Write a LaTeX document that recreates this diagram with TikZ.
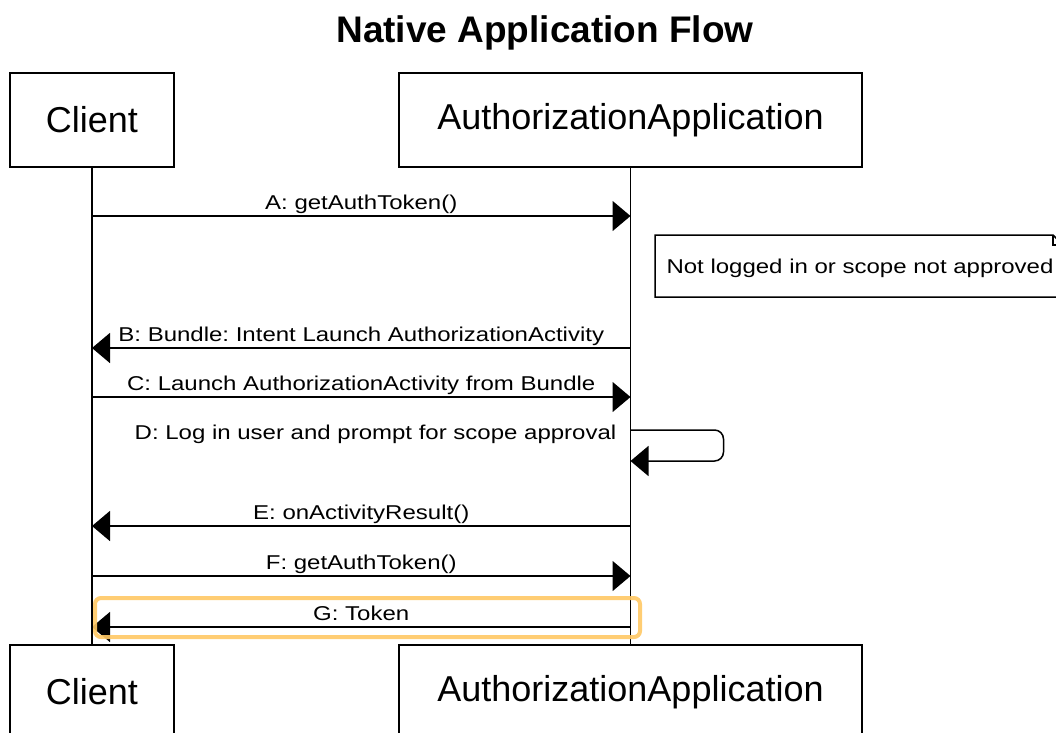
\documentclass[tikz,border=0pt]{standalone}
\usepackage{fontspec}
\setmainfont{Liberation Sans}
\newfontfamily\msgfont[FakeStretch=1.2]{Liberation Sans}
\usetikzlibrary{arrows.meta,calc}
\definecolor{hlorange}{RGB}{255,200,100}
\frenchspacing

\begin{document}
\begin{tikzpicture}[x=1pt,y=-1pt,
  actor/.style={draw, line width=1.5pt, minimum height=94pt, inner sep=0pt,
                font=\fontsize{36}{40}\selectfont},
  msg/.style={line width=1.5pt, -{Triangle[length=18pt,width=30pt]}},
  lbl/.style={font=\msgfont\fontsize{20}{24}\selectfont, inner sep=0pt},
  above line/.style={lbl, anchor=base, yshift=7pt},
  lifeline/.style={line width=1.5pt},
  notebox/.style={line width=1.5pt},
  highlight/.style={draw=hlorange, line width=4pt, rounded corners=6pt, opacity=0.9}]
\useasboundingbox (0,0) rectangle (1056,732);

% title
\node[font=\bfseries\fontsize{37}{42}\selectfont] (title) at (545,33) {Native Application Flow};

% participants (top and bottom)
\node[actor, minimum width=164pt] (client)  at (92,120)    {Client};
\node[actor, minimum width=463pt] (app)     at (630.5,120) {AuthorizationApplication};
\node[actor, minimum width=164pt] (clientB) at (92,692)    {Client};
\node[actor, minimum width=463pt] (appB)    at (630.5,692) {AuthorizationApplication};

% lifelines
\draw[lifeline] (client.south) -- (clientB.north);
\draw[lifeline] (app.south) -- (appB.north);

% message rows
\coordinate (ya)  at (0,216);
\coordinate (yb)  at (0,348);
\coordinate (yc)  at (0,397);
\coordinate (yd)  at (0,430);
\coordinate (yd2) at (0,461);
\coordinate (ye)  at (0,526);
\coordinate (yf)  at (0,576);
\coordinate (yg)  at (0,627);

% note on the application lifeline
\draw[notebox] (655,235) -- (1053,235) -- (1063,245) -- (1063,297) -- (655,297) -- cycle;
\draw[notebox] (1053,235) -- (1053,245) -- (1063,245);
\node[lbl, anchor=base] (note) at (860,273) {Not logged in or scope not approved};

% messages
\draw[msg] (client |- ya) -- node[above line] {A: getAuthToken()} (app |- ya);
\draw[msg] (app |- yb) -- node[above line] {B: Bundle: Intent Launch AuthorizationActivity} (client |- yb);
\draw[msg] (client |- yc) -- node[above line] {C: Launch AuthorizationActivity from Bundle} (app |- yc);
\draw[msg, rounded corners=9pt] (app |- yd) -- ++(93,0) -- ++(0,31) -- (app |- yd2);
\node[lbl, anchor=base east] (dlabel) at ($(app |- yd)+(-14,9)$) {D: Log in user and prompt for scope approval};
\draw[msg] (app |- ye) -- node[above line] {E: onActivityResult()} (client |- ye);
\draw[msg] (client |- yf) -- node[above line] {F: getAuthToken()} (app |- yf);
\draw[msg] (app |- yg) -- node[above line] (glabel) {G: Token} (client |- yg);

% highlighted reply
\draw[highlight] (95,598) rectangle (640,637);
\end{tikzpicture}
\end{document}
